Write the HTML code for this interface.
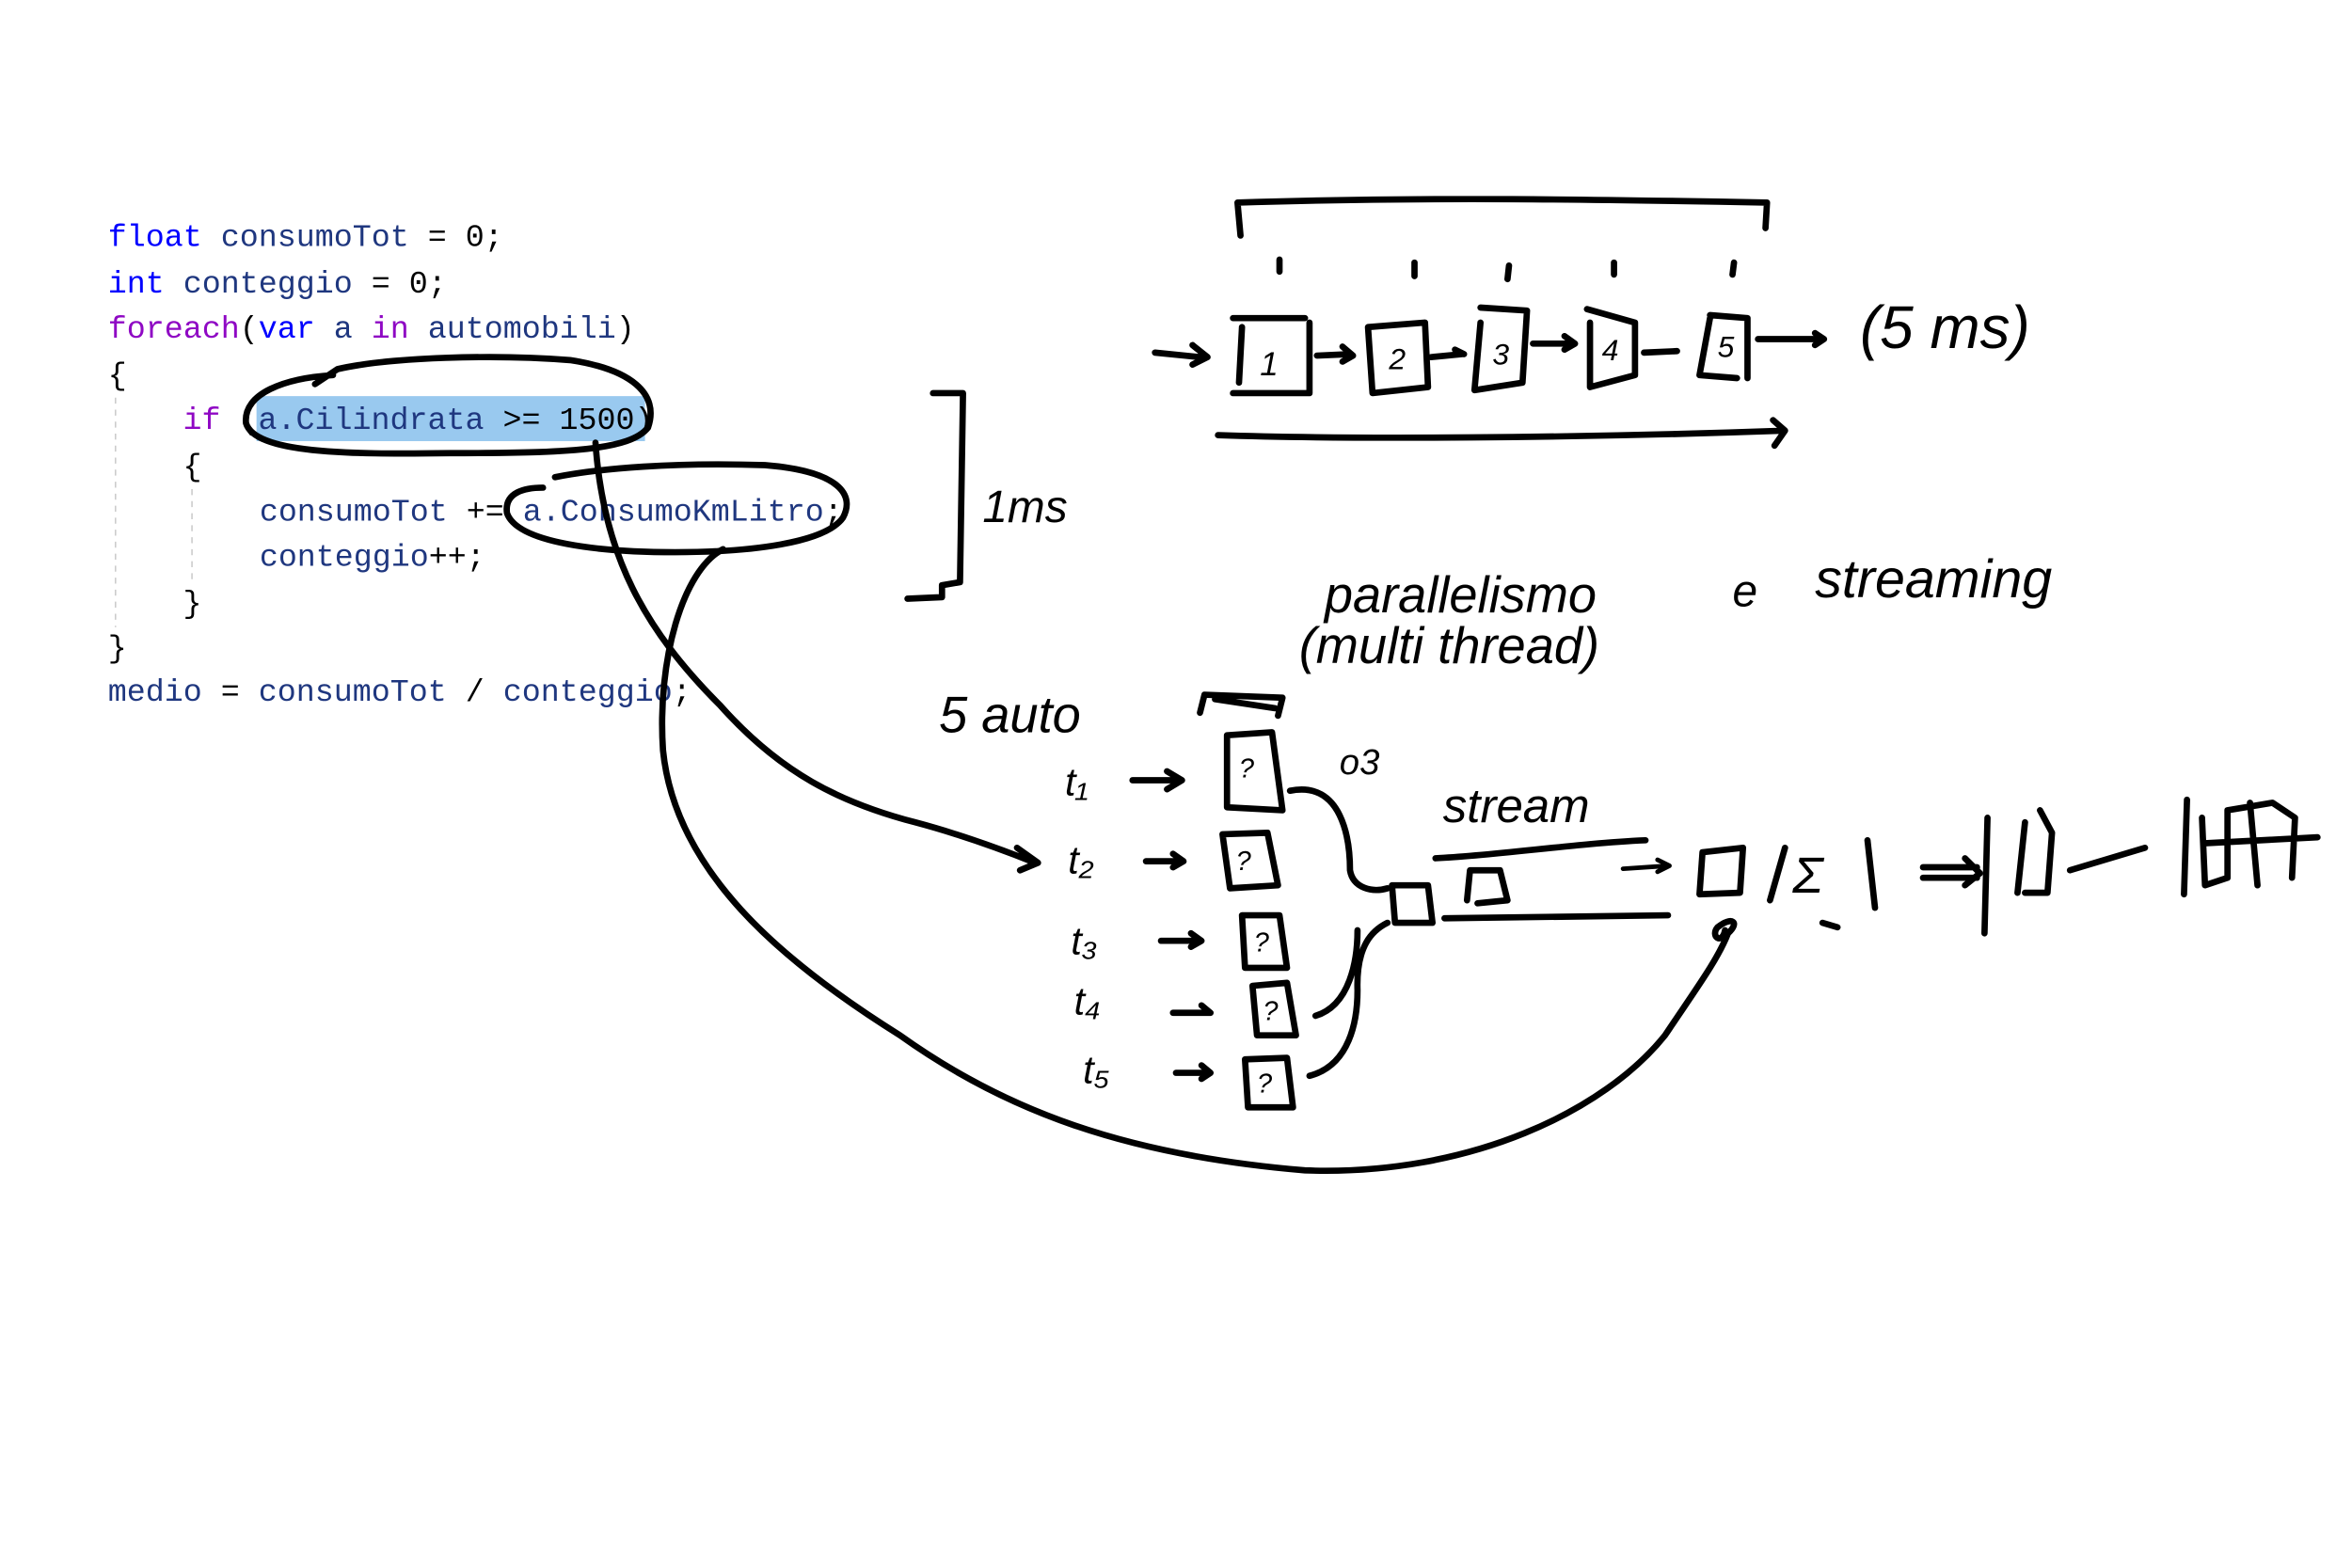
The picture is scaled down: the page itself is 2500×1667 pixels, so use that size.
<!DOCTYPE html>
<html><head><meta charset="utf-8"><style>
html,body{margin:0;padding:0;background:#fff;width:2500px;height:1667px;overflow:hidden}
svg{display:block}
.code{font-family:"Liberation Mono",monospace;font-size:20.9px}
.k{fill:#0000ff}.p{fill:#8f08c4}.v{fill:#1f377f}.b{fill:#000}
.ink{fill:none;stroke:#000;stroke-width:4.2;stroke-linecap:round;stroke-linejoin:round}
.thin{fill:none;stroke:#000;stroke-width:3;stroke-linecap:round;stroke-linejoin:round}
.hw{font-family:"Liberation Sans",sans-serif;font-style:italic;font-weight:normal;fill:#000}
</style></head><body>
<svg width="2500" height="1667" viewBox="0 0 1568 1045" preserveAspectRatio="none">
<rect x="171" y="264" width="259" height="30" fill="#99c9ef"/>
<line x1="77" y1="265" x2="77" y2="418" stroke="#ccc" stroke-dasharray="4,4"/>
<line x1="128" y1="326" x2="128" y2="388" stroke="#ccc" stroke-dasharray="4,4"/>
<g class="code">
<text x="72" y="164"><tspan class="k">float</tspan><tspan class="v"> consumoTot</tspan><tspan class="b"> = 0;</tspan></text>
<text x="72" y="195"><tspan class="k">int</tspan><tspan class="v"> conteggio</tspan><tspan class="b"> = 0;</tspan></text>
<text x="72" y="225"><tspan class="p">foreach</tspan><tspan class="b">(</tspan><tspan class="k">var</tspan><tspan class="v"> a </tspan><tspan class="p">in</tspan><tspan class="v"> automobili</tspan><tspan class="b">)</tspan></text>
<text x="72" y="256" class="b">{</text>
<text x="122" y="286"><tspan class="p">if</tspan><tspan class="b"> (</tspan><tspan class="v">a.Cilindrata</tspan><tspan class="b"> &gt;= 1500)</tspan></text>
<text x="122" y="317" class="b">{</text>
<text x="173" y="347"><tspan class="v">consumoTot</tspan><tspan class="b"> += </tspan><tspan class="v">a.ConsumoKmLitro</tspan><tspan class="b">;</tspan></text>
<text x="173" y="377"><tspan class="v">conteggio</tspan><tspan class="b">++;</tspan></text>
<text x="122" y="408" class="b">}</text>
<text x="72" y="438" class="b">}</text>
<text x="72" y="467"><tspan class="v">medio</tspan><tspan class="b"> = </tspan><tspan class="v">consumoTot</tspan><tspan class="b"> / </tspan><tspan class="v">conteggio</tspan><tspan class="b">;</tspan></text>
</g>
<g>
<path class="ink" d="M210,256 L225,246 C260,238 330,236 380,240 C420,246 440,262 432,285 C420,300 380,302 300,302 C230,303 170,302 164,282 C162,262 190,252 222,250"/>
<path class="ink" d="M370,318 C400,312 450,308 510,310 C560,314 570,330 562,345 C550,362 500,368 450,368 C400,368 345,362 338,342 C336,328 350,325 362,325"/>
<path class="ink" d="M397,295 C402,370 430,420 480,470 C520,515 560,535 610,548 C640,556 665,565 690,575 M678,565 L692,575 L680,580"/>
<path class="ink" d="M482,366 C455,380 438,440 442,500 C450,580 520,640 600,690 C670,740 750,770 870,780 C980,784 1070,740 1110,690 C1130,660 1145,640 1152,622 C1160,615 1155,610 1145,618 C1140,624 1148,630 1150,620"/>
<path class="ink" d="M622,262 L642,262 L640,388 L628,390 L628,398 L605,399"/>
<path class="ink" d="M827,157 L825,135 C950,131 1070,133 1178,135 L1177,152"/>
<path class="ink" d="M853,173 L853,181 M943,175 L943,184 M1006,177 L1005,186 M1076,175 L1076,183 M1156,175 L1155,183"/>
<path class="ink" d="M770,235 L800,238 M795,230 L805,238 L795,243"/>
<path class="ink" d="M822,212 L870,212 M828,218 L826,255 M873,215 L873,262 L822,262"/>
<path class="ink" d="M912,218 L950,215 L952,258 L915,262 Z"/>
<path class="ink" d="M987,205 L1018,207 L1015,255 L983,260 L987,215"/>
<path class="ink" d="M1058,206 L1090,215 L1090,250 L1060,258 L1060,215"/>
<path class="ink" d="M1140,210 L1165,212 L1165,252 M1140,212 L1133,250 L1158,252"/>
<path class="ink" d="M878,237 L900,236 M895,231 L902,237 L895,241 M954,238 L975,236 M970,233 L976,236 M1022,229 L1048,229 M1043,224 L1050,229 L1043,233 M1096,235 L1118,234 M1172,226 L1215,226 M1210,222 L1216,226 L1210,230"/>
<path class="ink" d="M812,290 C900,293 1050,292 1190,287 M1182,280 L1190,287 L1183,297"/>
<path class="ink" d="M800,475 L803,463 L855,465 L852,477 M810,466 L850,472"/>
<path class="ink" d="M818,490 L848,488 L855,540 L818,538 Z"/>
<path class="ink" d="M815,556 L845,555 L852,590 L820,592 Z"/>
<path class="ink" d="M828,610 L853,610 L858,645 L830,645 Z"/>
<path class="ink" d="M835,657 L858,655 L864,690 L838,690 Z"/>
<path class="ink" d="M830,706 L858,705 L862,738 L832,738 Z"/>
<path class="ink" d="M755,520 L785,520 M778,514 L788,520 L778,526 M764,574 L788,574 M782,569 L789,574 L782,578 M774,627 L800,627 M794,622 L801,627 L794,631 M782,675 L806,675 M801,670 L807,675 M784,715 L806,715 M801,710 L807,715 L801,719"/>
<path class="ink" d="M860,527 C895,520 900,560 900,580 C902,592 915,595 925,592 M877,677 C900,670 905,640 905,620 M873,717 C900,710 905,680 905,660 C904,630 915,620 925,615"/>
<path class="ink" d="M928,590 L952,590 L955,615 L930,615 Z"/>
<path class="ink" d="M957,572 C1000,570 1050,562 1097,560 M963,612 L1112,610 M978,600 L980,580 L1000,580 L1005,600 L985,602"/>
<path class="thin" d="M1082,579 L1112,577 M1105,573 L1113,577 L1105,581"/>
<path class="ink" d="M1135,568 L1162,565 L1160,595 L1133,596 Z"/>
<path class="ink" d="M1190,565 L1180,600 M1245,560 L1250,605 M1215,615 L1225,618 M1282,578 L1318,578 M1282,585 L1318,585 M1310,572 L1320,582 L1310,590"/>
<path class="ink" d="M1325,545 L1323,622 M1350,548 L1345,595 M1360,540 L1368,555 L1365,595 L1350,595 M1380,580 L1430,565"/>
<path class="ink" d="M1458,533 L1456,596 M1468,545 L1470,590 L1485,585 L1485,540 L1515,535 L1530,545 L1528,585 M1470,562 L1545,558 M1500,535 L1505,590"/>
</g>
<g>
<text class="hw" x="655" y="348" font-size="30">1ms</text>
<text class="hw" x="1240" y="232" font-size="40">(5  ms)</text>
<text class="hw" x="840" y="250" font-size="22">1</text>
<text class="hw" x="926" y="246" font-size="20">2</text>
<text class="hw" x="995" y="243" font-size="20">3</text>
<text class="hw" x="1068" y="240" font-size="20">4</text>
<text class="hw" x="1145" y="238" font-size="20">5</text>
<text class="hw" x="883" y="408" font-size="34">parallelismo</text>
<text class="hw" x="1155" y="404" font-size="30">e</text>
<text class="hw" x="1210" y="398" font-size="36">streaming</text>
<text class="hw" x="866" y="442" font-size="34">(multi thread)</text>
<text class="hw" x="626" y="488" font-size="34">5 auto</text>
<text class="hw" x="710" y="530" font-size="26">t₁</text>
<text class="hw" x="712" y="582" font-size="26">t₂</text>
<text class="hw" x="714" y="636" font-size="26">t₃</text>
<text class="hw" x="716" y="676" font-size="26">t₄</text>
<text class="hw" x="722" y="722" font-size="26">t₅</text>
<text class="hw" x="826" y="518" font-size="18">?</text>
<text class="hw" x="824" y="580" font-size="18">?</text>
<text class="hw" x="836" y="634" font-size="18">?</text>
<text class="hw" x="842" y="680" font-size="18">?</text>
<text class="hw" x="838" y="728" font-size="18">?</text>
<text class="hw" x="893" y="516" font-size="24">o3</text>
<text class="hw" x="962" y="548" font-size="32">stream</text>
<text class="hw" x="1195" y="595" font-size="34">Σ</text>
</g>
</svg>
</body></html>
